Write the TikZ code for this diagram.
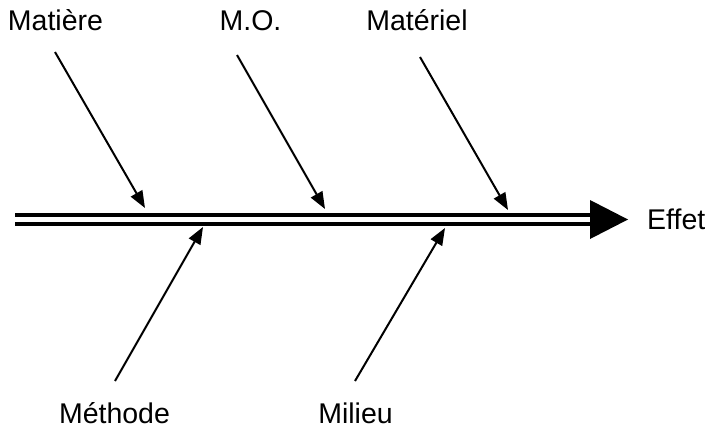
\documentclass[tikz,border=0pt]{standalone}
\usepackage{fontspec}
\setmainfont{Liberation Sans}
\usetikzlibrary{arrows.meta,positioning}
\tikzset{cause/.style={
        font=\fontsize{28.5}{30}\selectfont,
        inner sep=0pt,
        anchor=base,
    },
    branch/.style={line width=2pt, -{Triangle[length=17pt,width=13pt]}},
    spine/.style={double, line width=4.5pt, double distance=4.5pt}
}

\begin{document}
\begin{tikzpicture}[x=1pt,y=-1pt]
  \useasboundingbox (0,0) rectangle (706,428);
  \node[cause] (matiere)  at (55.5,31) {Matière};
  \node[cause] (mo)       at (250.5,31) {M.O.};
  \node[cause] (materiel) at (417,31) {Matériel};
  \node[cause] (methode)  at (114.5,423.5) {Méthode};
  \node[cause] (milieu)   at (355.5,423.5) {Milieu};
  \node[cause, anchor=base west] (effet) at (647,229.5) {Effet};
  % the spine
  \coordinate (start) at (15,219.5);
  \coordinate (head)  at (590,219.5);
  \coordinate (tip)   at (628,219.5);
  \draw[spine] (start) -- (head);
  \draw[-{Triangle[length=38pt,width=39pt,line width=0pt]}] (head) -- (tip);
  % the causes
  \coordinate (matiere-in)  at (55,52);
  \coordinate (mo-in)       at (237,55);
  \coordinate (materiel-in) at (420,57);
  \coordinate (methode-in)  at (115,381);
  \coordinate (milieu-in)   at (355,381);
  \draw[branch] (matiere-in)  -- (145,208);
  \draw[branch] (mo-in)       -- (325,209);
  \draw[branch] (materiel-in) -- (508,210);
  \draw[branch] (methode-in)  -- (203,227);
  \draw[branch] (milieu-in)   -- (445,228);
\end{tikzpicture}
\end{document}
